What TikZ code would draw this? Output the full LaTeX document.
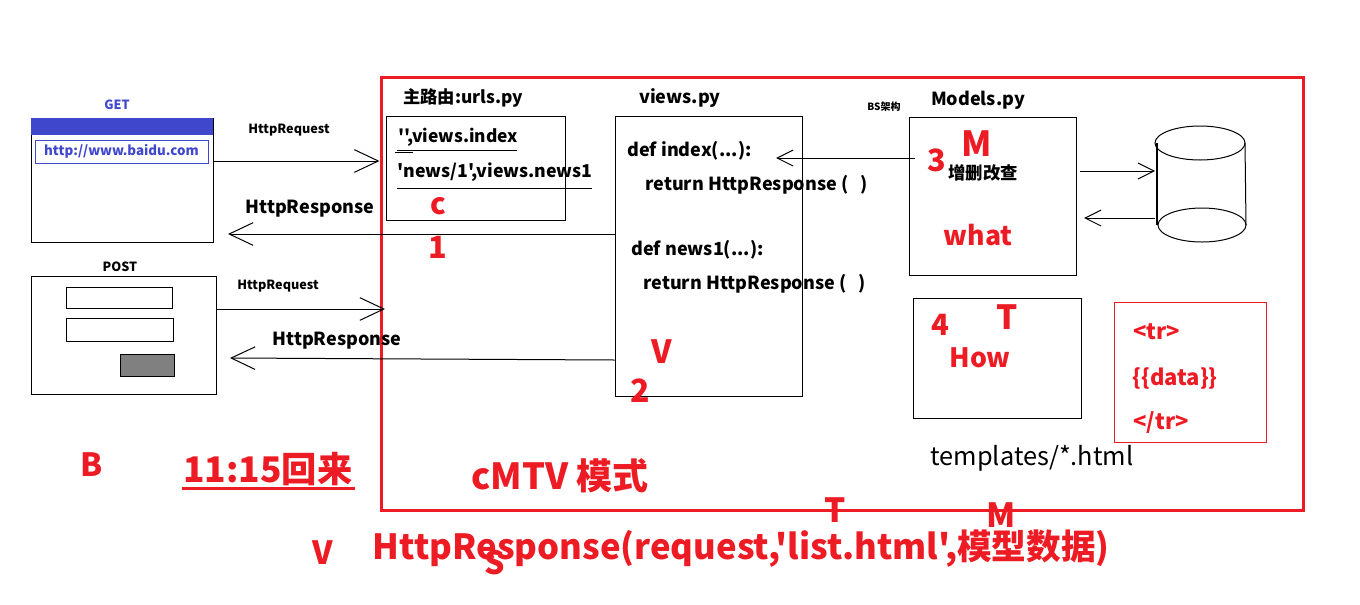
\documentclass[tikz,border=0pt]{standalone}
\usepackage{fontspec}
\newfontfamily\nf{Noto Sans CJK SC}
\usetikzlibrary{arrows.meta, fit}
\definecolor{paintred}{RGB}{237,28,36}
\definecolor{paintblue}{RGB}{63,72,204}

\begin{document}
\begin{tikzpicture}[x=0.75pt, y=-0.75pt, line width=0.75pt,
  t/.style={font=\nf\bfseries\fontsize{#1pt}{#1pt}\selectfont, inner sep=0},
  r/.style={t=#1, text=paintred},
  win/.style={draw, fit={#1}, inner sep=0},
  arr/.style={-{Straight Barb[length=18pt, width=17pt]}},
  arrs/.style={-{Straight Barb[length=12pt, width=12pt]}}]
\useasboundingbox (0,0) rectangle (1360,604);
% browser side
\node[t=9.5, text=paintblue] (getlbl) at (117,105) {GET};
\node[win={(31,118) (213,242)}] (getwin) {};
\fill[paintblue] (31,118) rectangle (213,135);
\node[win={(35,140) (208,163)}, draw=paintblue] (url) {};
\node[t=10, text=paintblue] (urltext) at (url) {http://www.baidu.com};
\node[t=9.5] (postlbl) at (120,267) {POST};
\node[win={(31,276) (216,394)}] (postwin) {};
\node[win={(66,287) (172,308)}] (field1) {};
\node[win={(66,318) (173,341)}] (field2) {};
\node[win={(120,354) (174,376)}, fill=gray] (btn) {};
% red frame
\node[win={(381,77) (1303,510)}, draw=paintred, line width=2.25pt] (mvc) {};
% urls
\node[t=13] (urlstitle) at (463,98) {主路由:urls.py};
\node[win={(386,116) (565,220)}] (urls) {};
\node[t=13] (route1) at (458,137) {'',views.index};
\node[t=13.3] (route2) at (495,172) {'news/1',views.news1};
\draw (395,152) -- (413,152) (397,150) -- (517,150) (397,188) -- (592,188);
\node[r=22] (cc) at (438,206) {c};
\node[r=23] (one) at (438,247) {1};
% views
\node[t=13.5] (viewstitle) at (680,98) {views.py};
\node[win={(615,116) (802,396)}] (views) {};
\node[t=13.5, anchor=west] (def1) at (627,151) {def index(...):};
\node[t=13.5, anchor=west] (ret1) at (645,185) {return HttpResponse (\ \ \ )};
\node[t=13.5, anchor=west] (def2) at (631,250) {def news1(...):};
\node[t=13.5, anchor=west] (ret2) at (643,284) {return HttpResponse (\ \ \ )};
\node[r=24] (vv) at (662,352) {V};
\node[r=24] (two) at (640,391) {2};
% models
\node[t=7.5] (bs) at (884,107) {BS架构};
\node[t=13.5] (modelstitle) at (978,100) {Models.py};
\node[win={(909,117) (1076,275)}] (models) {};
\node[r=26] (mm) at (977,144) {M};
\node[r=23] (three) at (937,160) {3};
\node[t=13] (crud) at (983,173) {增删改查};
\node[r=20] (what) at (978,235) {what};
% database
\draw (1200,143) ellipse [x radius=45, y radius=17];
\draw (1202,225) ellipse [x radius=44, y radius=17];
\draw[line width=1.5pt] (1157,143) -- (1157,225);
\draw (1245,143) -- (1246,225);
\coordinate (db) at (1155,195);
% templates
\node[win={(913,298) (1081,418)}] (tmpl) {};
\node[r=22] (four) at (940,325) {4};
\node[r=25] (tt) at (1007,317) {T};
\node[r=20] (how) at (980,358) {How};
\node[win={(1114,302) (1266,442)}, draw=paintred] (html) {};
\node[r=16.5, anchor=west] (tr1) at (1133,332) {<tr>};
\node[r=16.5, anchor=west] (data) at (1132,378) {\{\{data\}\}};
\node[r=16.5, anchor=west] (tr2) at (1133,423) {</tr>};
\node[font=\nf\fontsize{19pt}{19pt}\selectfont, inner sep=0] (tpath) at (1032,458) {templates/*.html};
% requests and responses
\node[t=9.5] (req1) at (289,130) {HttpRequest};
\node[t=13.5] (resp1) at (310,209) {HttpResponse};
\node[t=9.5] (req2) at (278,286) {HttpRequest};
\node[t=13.5] (resp2) at (337,341) {HttpResponse};
\draw[arr] (getwin.east |- 0,161) -- (mvc.west |- 0,161);
\draw[arr] (views.west |- 0,234) -- (228,234);
\draw[arr] (postwin.east |- 0,309) -- (385,309);
\draw[arr] (views.west |- 0,360) -- (230,358);
\draw[arrs] (915,158) -- (776,158);
\draw[arrs] (1080,171) -- (db |- 0,171);
\draw[arrs] (db |- 0,218) -- (1084,218);
% notes below
\node[r=24] (bb) at (92,465) {B};
\node[r=26.5] (back) at (268,469) {11:15回来};
\draw[paintred, line width=2.25pt] (182,488) -- (355,488);
\node[r=27] (mode) at (560,476) {cMTV 模式};
\node[r=24] (vb) at (323,553) {V};
\node[r=26, anchor=west] (call) at (372,549) {HttpResponse(request,'list.html',模型数据)};
\node[r=24] (ss) at (495,563) {S};
\node[r=25] (tb) at (835,510) {T};
\node[r=25] (mb) at (1001,515) {M};
\end{tikzpicture}
\end{document}
